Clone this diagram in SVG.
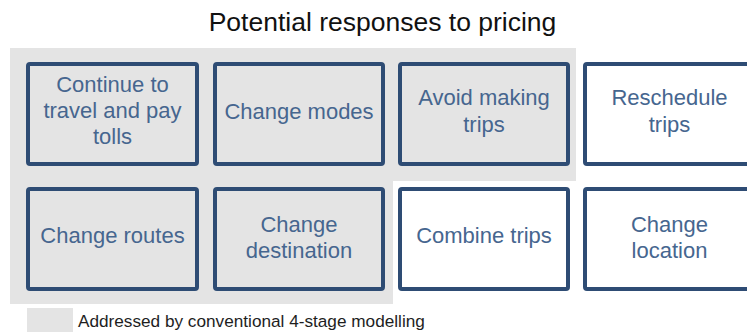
<svg xmlns="http://www.w3.org/2000/svg" width="747" height="336" viewBox="0 0 747 336">
  <style>
    .title { font-family: "Liberation Sans", Arial, sans-serif; font-size: 26.5px; fill: #111111; }
    .box { stroke: #2E4C74; stroke-width: 4; }
    .shaded { fill: #E4E4E4; }
    .plain { fill: #FFFFFF; }
    .label { font-family: "Liberation Sans", Arial, sans-serif; font-size: 22px; fill: #46668F; text-anchor: middle; }
    .legend { font-family: "Liberation Sans", Arial, sans-serif; font-size: 17.2px; fill: #1E1E1E; }
  </style>

  <rect width="747" height="336" fill="#FFFFFF"/>

  <text class="title" x="382.5" y="31" text-anchor="middle">Potential responses to pricing</text>

  <!-- shaded area: responses covered by 4-stage modelling -->
  <path class="shaded" d="M10,48 H576 V181 H393 V304 H10 Z"/>

  <g id="continue">
    <rect class="box shaded" x="28" y="64" width="169" height="100" rx="2"/>
    <text class="label" x="112.5" y="92">Continue to</text>
    <text class="label" x="112.5" y="118">travel and pay</text>
    <text class="label" x="112.5" y="144">tolls</text>
  </g>

  <g id="modes">
    <rect class="box shaded" x="215" y="64" width="168" height="100" rx="2"/>
    <text class="label" x="299" y="119">Change modes</text>
  </g>

  <g id="avoid">
    <rect class="box shaded" x="400" y="64" width="168" height="100" rx="2"/>
    <text class="label" x="484" y="105">Avoid making</text>
    <text class="label" x="484" y="132">trips</text>
  </g>

  <g id="reschedule">
    <rect class="box plain" x="585" y="64" width="170" height="100" rx="2"/>
    <text class="label" x="669.5" y="105">Reschedule</text>
    <text class="label" x="669.5" y="132">trips</text>
  </g>

  <g id="routes">
    <rect class="box shaded" x="28" y="189" width="169" height="100" rx="2"/>
    <text class="label" x="112.5" y="243">Change routes</text>
  </g>

  <g id="destination">
    <rect class="box shaded" x="215" y="189" width="168" height="100" rx="2"/>
    <text class="label" x="299" y="232">Change</text>
    <text class="label" x="299" y="258">destination</text>
  </g>

  <g id="combine">
    <rect class="box plain" x="400" y="189" width="168" height="100" rx="2"/>
    <text class="label" x="484" y="243">Combine trips</text>
  </g>

  <g id="location">
    <rect class="box plain" x="585" y="189" width="170" height="100" rx="2"/>
    <text class="label" x="669.5" y="232">Change</text>
    <text class="label" x="669.5" y="258">location</text>
  </g>

  <g id="connectors"></g>

  <g id="legend">
    <rect class="shaded" x="27" y="308" width="46" height="24"/>
    <text class="legend" x="78" y="327">Addressed by conventional 4-stage modelling</text>
  </g>
</svg>
